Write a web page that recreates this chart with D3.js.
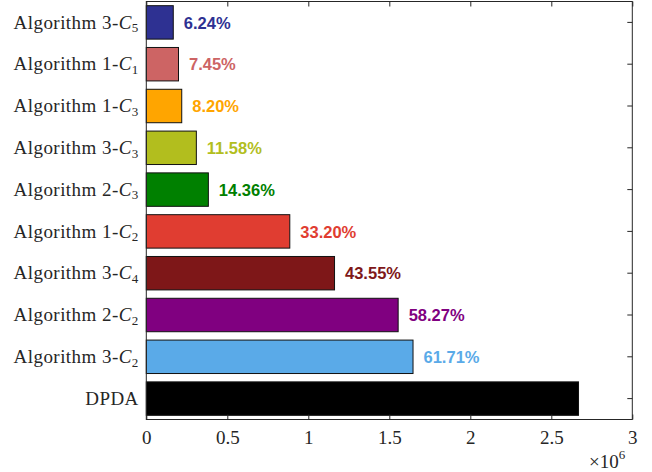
<!DOCTYPE html>
<html>
<head>
<meta charset="utf-8">
<script src="https://cdn.jsdelivr.net/npm/d3@7"></script>
<style>
  body { margin: 0; background: #fff; }
  svg { display: block; }
</style>
</head>
<body>
<svg id="chart" width="652" height="472"></svg>
<script>
// Categories, top to bottom
const algoNames = ["Algorithm 3-", "Algorithm 1-", "Algorithm 1-", "Algorithm 3-", "Algorithm 2-",
                   "Algorithm 1-", "Algorithm 3-", "Algorithm 2-", "Algorithm 3-", "DPDA"];
const classSubs = ["5", "1", "3", "3", "3", "2", "4", "2", "2", null];
// Share of the DPDA count, in percent
const percents = [6.24, 7.45, 8.20, 11.58, 14.36, 33.20, 43.55, 58.27, 61.71, 100];
const dpdaCount = 2.668e6;
const barColors = ["#2e3192", "#cd6464", "#ffa500", "#b2be1e", "#008000",
                   "#e03d31", "#7e1718", "#800080", "#5aaae8", "#000000"];
const xTicks = [0, 0.5e6, 1e6, 1.5e6, 2e6, 2.5e6, 3e6];
const xTickLabels = ["0", "0.5", "1", "1.5", "2", "2.5", "3"];

const values = percents.map(p => dpdaCount * p / 100);
const ids = d3.range(algoNames.length);

const svg = d3.select("#chart");
const plotL = 146.3, plotR = 632.3, plotT = 1.5, plotB = 419.5;
const serif = "'Liberation Serif', 'Times New Roman', serif";

const x = d3.scaleLinear().domain([0, 3e6]).range([plotL, plotR]);
const y = d3.scaleBand().domain(ids).range([plotT, plotB]).paddingInner(0.2).paddingOuter(0.1);
const yc = d3.scaleBand().domain(ids).range([plotT, plotB]);

// Bars
svg.append("g").selectAll("rect").data(ids).join("rect")
  .attr("x", x(0))
  .attr("y", i => y(i))
  .attr("width", i => x(values[i]) - x(0))
  .attr("height", y.bandwidth())
  .attr("fill", i => barColors[i])
  .attr("stroke", "#111")
  .attr("stroke-width", 1);

// Percent labels
svg.append("g").selectAll("text").data(ids.filter(i => algoNames[i] !== "DPDA")).join("text")
  .attr("x", i => x(values[i]) + 10.5)
  .attr("y", i => yc(i) + yc.bandwidth() / 2)
  .attr("dy", "0.38em")
  .attr("fill", i => barColors[i])
  .style("font-family", "'Liberation Sans', Arial, sans-serif")
  .style("font-weight", "bold")
  .style("font-size", "16.5px")
  .text(i => percents[i].toFixed(2) + "%");

// Frame with inward ticks
const frame = svg.append("g").attr("fill", "none").attr("stroke", "#262626").attr("stroke-width", 1);
frame.append("rect").attr("x", plotL).attr("y", plotT).attr("width", plotR - plotL).attr("height", plotB - plotT);

const axisBottom = d3.axisBottom(x).tickValues(xTicks).tickSizeInner(-5).tickSizeOuter(0).tickFormat((d, i) => xTickLabels[i]);
const gb = svg.append("g").attr("transform", `translate(0,${plotB})`).call(axisBottom);
gb.select(".domain").remove();
gb.selectAll("line").attr("stroke", "#262626");
gb.selectAll("text")
  .attr("y", 24.5)
  .attr("dy", 0)
  .attr("fill", "#262626")
  .style("font-family", serif)
  .style("font-size", "19px");

const axisTop = d3.axisTop(x).tickValues(xTicks).tickSizeInner(-5).tickSizeOuter(0).tickFormat("");
const gt = svg.append("g").attr("transform", `translate(0,${plotT})`).call(axisTop);
gt.select(".domain").remove();
gt.selectAll("line").attr("stroke", "#262626");

const axisRight = d3.axisRight(yc).tickSizeInner(-5).tickSizeOuter(0).tickFormat("");
const gr = svg.append("g").attr("transform", `translate(${plotR},0)`).call(axisRight);
gr.select(".domain").remove();
gr.selectAll("line").attr("stroke", "#262626");

// Category labels
const catLabels = svg.append("g").selectAll("text").data(ids).join("text")
  .attr("x", plotL - 7.5)
  .attr("y", i => yc(i) + yc.bandwidth() / 2)
  .attr("dy", 6.2)
  .attr("text-anchor", "end")
  .attr("fill", "#262626")
  .style("font-family", serif)
  .style("font-size", "19px")
  .style("letter-spacing", "0.45px");
catLabels.each(function(i) {
  const t = d3.select(this);
  t.append("tspan").text(algoNames[i]);
  if (classSubs[i]) {
    t.append("tspan").style("font-style", "italic").text("C");
    t.append("tspan").attr("dy", 3.5).style("font-size", "13px").text(classSubs[i]);
  }
});

// Exponent note
const ex = svg.append("text")
  .attr("x", 589)
  .attr("y", 468)
  .attr("fill", "#262626")
  .style("font-family", serif)
  .style("font-size", "19px");
ex.append("tspan").text("×10");
ex.append("tspan").attr("dy", -9).style("font-size", "13px").text("6");
</script>
</body>
</html>
